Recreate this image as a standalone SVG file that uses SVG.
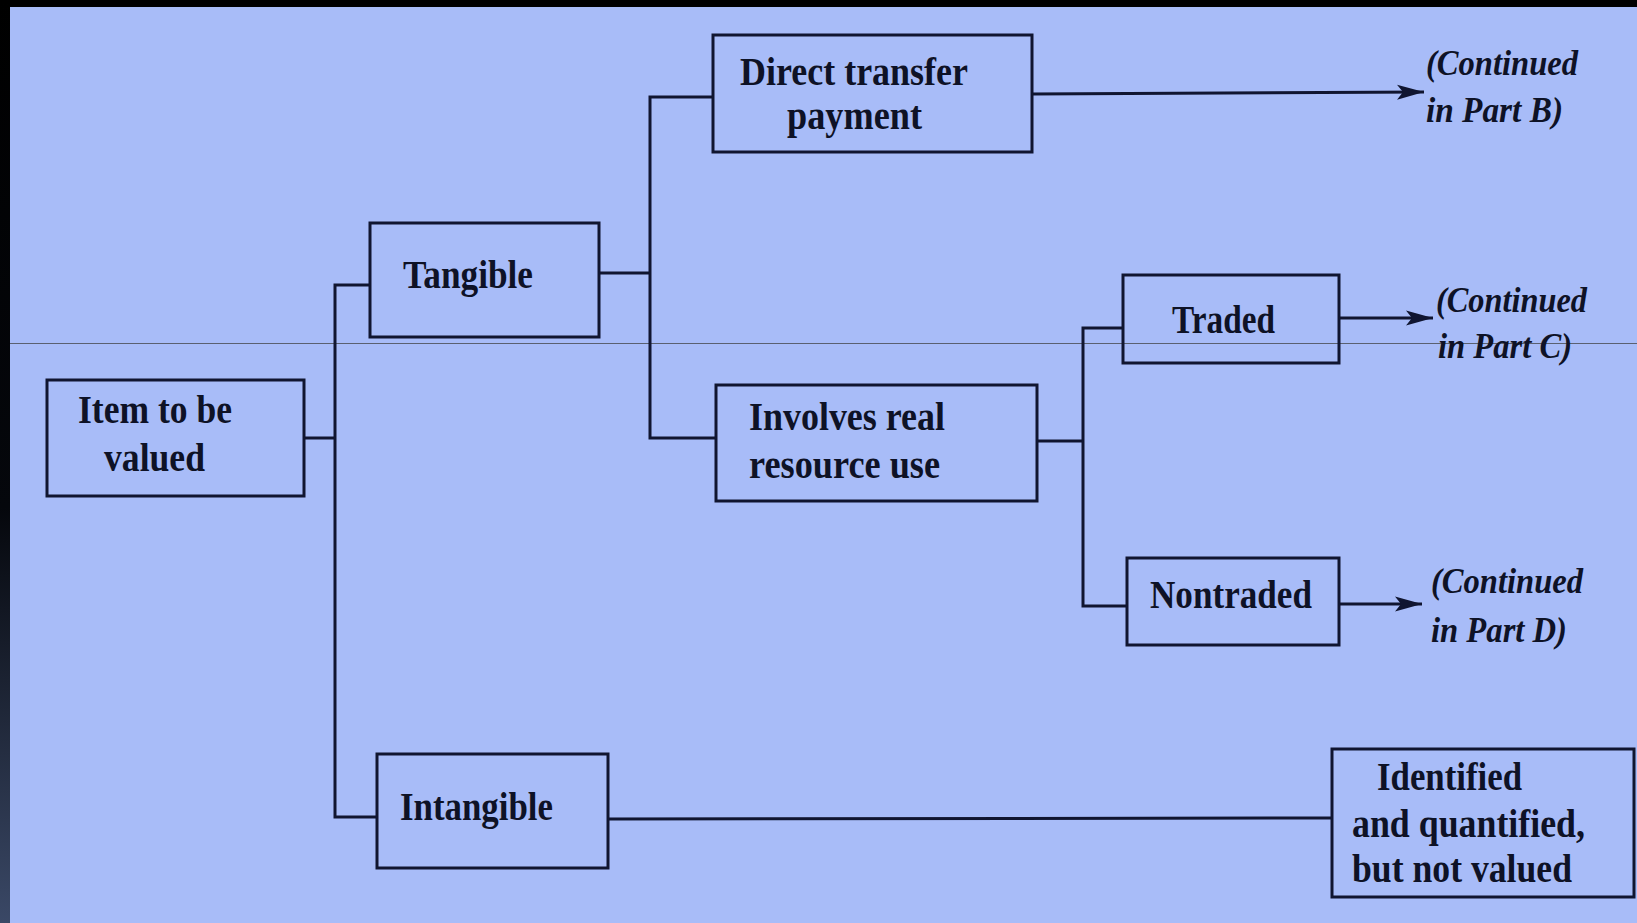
<svg xmlns="http://www.w3.org/2000/svg" width="1637" height="923" viewBox="0 0 1637 923">
<defs>
<linearGradient id="edge" x1="0" y1="0" x2="0" y2="1">
<stop offset="0" stop-color="#000"/>
<stop offset="0.55" stop-color="#05070c"/>
<stop offset="1" stop-color="#3a4866"/>
</linearGradient>
<marker id="arr" markerUnits="userSpaceOnUse" markerWidth="28" markerHeight="18" refX="27" refY="9" orient="auto" viewBox="0 0 28 18">
<path d="M0,1.5 L27,9 L0,16.5 L6,9 Z" fill="#101530"/>
</marker>
<style>
.box{fill:none;stroke:#101530;stroke-width:3}
.ln{fill:none;stroke:#101530;stroke-width:3}
.t{font-family:"Liberation Serif","Times New Roman",serif;font-weight:bold;font-size:39px;fill:#0e1226}
.c{font-family:"Liberation Serif","Times New Roman",serif;font-weight:bold;font-style:italic;font-size:35px;fill:#0e1226}
</style>
</defs>
<rect x="0" y="0" width="1637" height="923" fill="#a8bcf8"/>
<rect x="0" y="0" width="1637" height="7" fill="#000"/>
<rect x="0" y="0" width="10" height="923" fill="url(#edge)"/>
<line x1="10" y1="343.5" x2="1637" y2="343.5" stroke="#5a6070" stroke-width="1.2"/>

<g id="connectors">
<polyline class="ln" points="304,438 335,438"/>
<polyline class="ln" points="370,285 335,285 335,817 377,817"/>
<polyline class="ln" points="599,273 650,273"/>
<polyline class="ln" points="713,97 650,97 650,438 716,438"/>
<polyline class="ln" points="1037,441 1083,441"/>
<polyline class="ln" points="1123,328 1083,328 1083,606 1127,606"/>
<line class="ln" x1="1032" y1="94" x2="1424" y2="92" marker-end="url(#arr)"/>
<line class="ln" x1="1339" y1="318" x2="1433" y2="318" marker-end="url(#arr)"/>
<line class="ln" x1="1339" y1="604" x2="1422" y2="604" marker-end="url(#arr)"/>
<line class="ln" x1="608" y1="819" x2="1332" y2="818"/>
</g>

<g id="item">
<rect class="box" x="47" y="380" width="257" height="116"/>
<text class="t" x="78" y="423" textLength="154" lengthAdjust="spacingAndGlyphs">Item to be</text>
<text class="t" x="104" y="471" textLength="101" lengthAdjust="spacingAndGlyphs">valued</text>
</g>

<g id="tangible">
<rect class="box" x="370" y="223" width="229" height="114"/>
<text class="t" x="403" y="288" textLength="130" lengthAdjust="spacingAndGlyphs">Tangible</text>
</g>

<g id="intangible">
<rect class="box" x="377" y="754" width="231" height="114"/>
<text class="t" x="400" y="820" textLength="153" lengthAdjust="spacingAndGlyphs">Intangible</text>
</g>

<g id="direct">
<rect class="box" x="713" y="35" width="319" height="117"/>
<text class="t" x="740" y="85" textLength="228" lengthAdjust="spacingAndGlyphs">Direct transfer</text>
<text class="t" x="787" y="129" textLength="135" lengthAdjust="spacingAndGlyphs">payment</text>
</g>

<g id="involves">
<rect class="box" x="716" y="385" width="321" height="116"/>
<text class="t" x="749" y="430" textLength="196" lengthAdjust="spacingAndGlyphs">Involves real</text>
<text class="t" x="749" y="478" textLength="191" lengthAdjust="spacingAndGlyphs">resource use</text>
</g>

<g id="traded">
<rect class="box" x="1123" y="275" width="216" height="88"/>
<text class="t" x="1172" y="333" textLength="103" lengthAdjust="spacingAndGlyphs">Traded</text>
</g>

<g id="nontraded">
<rect class="box" x="1127" y="558" width="212" height="87"/>
<text class="t" x="1150" y="608" textLength="162" lengthAdjust="spacingAndGlyphs">Nontraded</text>
</g>

<g id="identified">
<rect class="box" x="1332" y="749" width="302" height="148"/>
<text class="t" x="1377" y="790" textLength="145" lengthAdjust="spacingAndGlyphs">Identified</text>
<text class="t" x="1352" y="837" textLength="233" lengthAdjust="spacingAndGlyphs">and quantified,</text>
<text class="t" x="1352" y="882" textLength="220" lengthAdjust="spacingAndGlyphs">but not valued</text>
</g>

<g id="partB">
<text class="c" x="1426" y="75" textLength="152" lengthAdjust="spacingAndGlyphs">(Continued</text>
<text class="c" x="1426" y="122" textLength="137" lengthAdjust="spacingAndGlyphs">in Part B)</text>
</g>

<g id="partC">
<text class="c" x="1436" y="312" textLength="151" lengthAdjust="spacingAndGlyphs">(Continued</text>
<text class="c" x="1438" y="358" textLength="134" lengthAdjust="spacingAndGlyphs">in Part C)</text>
</g>

<g id="partD">
<text class="c" x="1431" y="593" textLength="152" lengthAdjust="spacingAndGlyphs">(Continued</text>
<text class="c" x="1431" y="642" textLength="136" lengthAdjust="spacingAndGlyphs">in Part D)</text>
</g>
</svg>
